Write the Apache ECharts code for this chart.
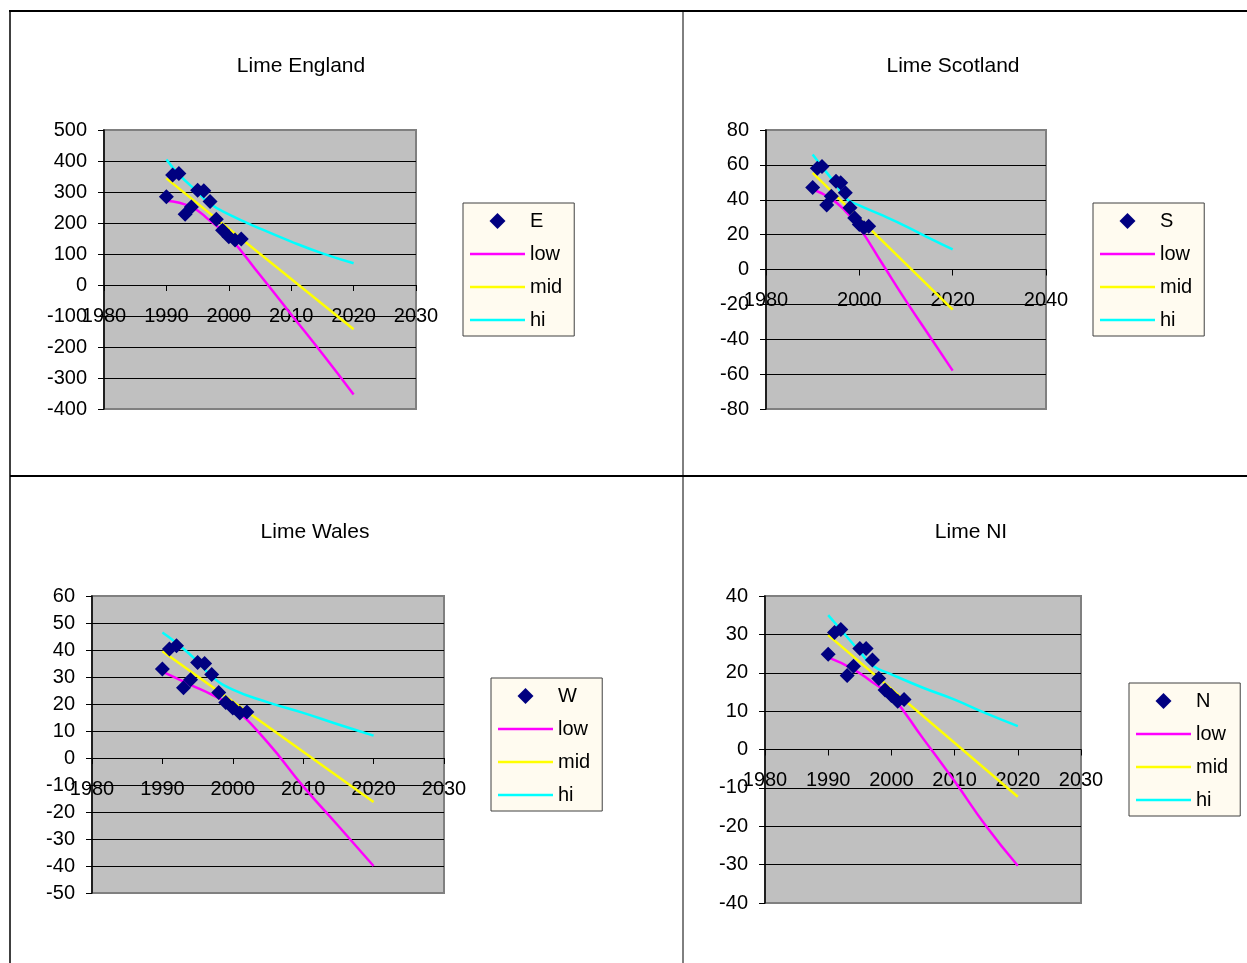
<!DOCTYPE html>
<html>
<head>
<meta charset="utf-8">
<script src="https://cdn.jsdelivr.net/npm/echarts@6/dist/echarts.min.js"></script>
<style>
html, body { margin: 0; padding: 0; background: #fff; }
#main { width: 1247px; height: 963px; }
</style>
</head>
<body>
<div id="main"></div>
<script>
// observed years and trend sample years
var obsYears = [1990, 1991, 1992, 1993, 1994, 1995, 1996, 1997, 1998, 1999, 2000, 2001, 2002];
var lowYears = [1990, 1994, 1997, 2000, 2005, 2010, 2015, 2020];
var midYears = [1990, 2020];
var hiYears = [1990, 1992, 1995, 1997, 2000, 2005, 2010, 2015, 2020];

// England
var engObs = [285, 355, 360, 228, 252, 306, 304, 269, 212, 177, 156, 145, 148];
var engLow = [272, 252, 207, 156, 32, -95, -222, -353];
var engMid = [344, -143];
var engHi = [405, 357, 300, 262, 228, 182, 140, 102, 70];

// Scotland
var scoObs = [47, 58, 59, 37, 42, 50.6, 49.7, 44, 35.4, 29.6, 25.8, 24, 24.8];
var scoLow = [46, 40.5, 33.5, 24, 3, -18, -38, -58];
var scoMid = [55.4, -23];
var scoHi = [66, 59, 48.7, 41, 36.8, 31, 24.8, 18, 11.5];

// Wales
var walObs = [33, 40.4, 41.6, 26, 29, 35.4, 35, 30.9, 24.3, 20.6, 18.5, 16.7, 17];
var walLow = [32, 27.1, 23.5, 18.9, 5.6, -10.5, -25.2, -40];
var walMid = [39.5, -16.3];
var walHi = [46.5, 42.6, 35.8, 30.2, 25.3, 20.6, 16.7, 12.4, 8.3];

// NI
var niObs = [24.8, 30.5, 31.3, 19.3, 21.7, 26.3, 26.3, 23.3, 18.5, 15.5, 14.1, 12.6, 13];
var niLow = [24, 20.9, 17.5, 13.9, 2.9, -8.3, -20, -30.3];
var niMid = [29.8, -12.3];
var niHi = [35, 31.2, 25.5, 21.9, 19.6, 16.1, 13, 9.4, 6.1];

var titles = ['Lime England', 'Lime Scotland', 'Lime Wales', 'Lime NI'];
var obsNames = ['E', 'S', 'W', 'N'];

var FONT = 'Liberation Sans, Arial, sans-serif';

function pairs(xs, ys) {
    var out = [];
    for (var i = 0; i < xs.length; i++) out.push([xs[i], ys[i]]);
    return out;
}

var charts = [
    {obs: engObs, low: engLow, mid: engMid, hi: engHi,
     grid: {left: 104, top: 130, width: 312, height: 279},
     x: [1980, 2030, 10], y: [-400, 500, 100],
     title: [301, 56], legend: [463, 203]},
    {obs: scoObs, low: scoLow, mid: scoMid, hi: scoHi,
     grid: {left: 766, top: 130, width: 280, height: 279},
     x: [1980, 2040, 20], y: [-80, 80, 20],
     title: [953, 56], legend: [1093, 203]},
    {obs: walObs, low: walLow, mid: walMid, hi: walHi,
     grid: {left: 92, top: 596, width: 352, height: 297},
     x: [1980, 2030, 10], y: [-50, 60, 10],
     title: [315, 522], legend: [491, 678]},
    {obs: niObs, low: niLow, mid: niMid, hi: niHi,
     grid: {left: 765, top: 596, width: 316, height: 307},
     x: [1980, 2030, 10], y: [-40, 40, 10],
     title: [971, 522], legend: [1129, 683]}
];

var lineIcon = 'path://M0,0H110V5H0Z';
var diamondIcon = 'path://M8,0L16,8L8,16L0,8Z';

var option = {
    backgroundColor: '#fff',
    animation: false,
    textStyle: {fontFamily: FONT},
    title: [],
    legend: [],
    grid: [],
    xAxis: [],
    yAxis: [],
    series: [],
    // page frame lines
    graphic: [
        {type: 'line', shape: {x1: 9, y1: 11, x2: 1247, y2: 11}, style: {stroke: '#000', lineWidth: 2}},
        {type: 'line', shape: {x1: 10, y1: 10, x2: 10, y2: 963}, style: {stroke: '#000', lineWidth: 1.5}},
        {type: 'line', shape: {x1: 683, y1: 11, x2: 683, y2: 963}, style: {stroke: '#000', lineWidth: 1}},
        {type: 'line', shape: {x1: 10, y1: 476, x2: 1247, y2: 476}, style: {stroke: '#000', lineWidth: 2}}
    ]
};

charts.forEach(function (c, i) {
    // x axis sits on the zero line, labels follow it
    var zeroOffset = -c.grid.height * (0 - c.y[0]) / (c.y[1] - c.y[0]);
    option.title.push({
        text: titles[i],
        left: c.title[0],
        top: c.title[1],
        textAlign: 'center',
        padding: 0,
        textStyle: {fontFamily: FONT, fontSize: 21, fontWeight: 'normal', color: '#000'}
    });
    option.legend.push({
        orient: 'vertical',
        left: c.legend[0],
        top: c.legend[1],
        padding: [8, 12, 6, 7],
        itemWidth: 55,
        itemHeight: 16,
        itemGap: 13,
        selectedMode: false,
        backgroundColor: '#fffbf0',
        borderColor: '#404040',
        borderWidth: 1,
        borderRadius: 0,
        textStyle: {fontFamily: FONT, fontSize: 20, color: '#000'},
        data: [
            {name: obsNames[i], icon: diamondIcon, itemStyle: {borderWidth: 0}},
            {name: 'low', icon: lineIcon, itemStyle: {borderWidth: 0}},
            {name: 'mid', icon: lineIcon, itemStyle: {borderWidth: 0}},
            {name: 'hi', icon: lineIcon, itemStyle: {borderWidth: 0}}
        ]
    });
    option.grid.push({
        left: c.grid.left, top: c.grid.top, width: c.grid.width, height: c.grid.height,
        show: true,
        backgroundColor: '#c0c0c0',
        borderColor: '#808080',
        borderWidth: 2
    });
    option.xAxis.push({
        type: 'value',
        gridIndex: i,
        position: 'bottom',
        offset: zeroOffset,
        min: c.x[0], max: c.x[1], interval: c.x[2],
        axisLine: {onZero: false, lineStyle: {color: '#000', width: 1}},
        axisTick: {show: true, length: 6, lineStyle: {color: '#000'}},
        splitLine: {show: false},
        axisLabel: {
            margin: 21, fontSize: 20, color: '#000', fontFamily: FONT,
            showMinLabel: true, showMaxLabel: true,
            formatter: function (v) { return String(v); }
        }
    });
    option.yAxis.push({
        type: 'value',
        gridIndex: i,
        min: c.y[0], max: c.y[1], interval: c.y[2],
        axisLine: {show: true, onZero: false, lineStyle: {color: '#000', width: 1.5}},
        axisTick: {show: true, length: 6, lineStyle: {color: '#000'}},
        splitLine: {show: true, showMinLine: false, showMaxLine: false, lineStyle: {color: '#000', width: 1}},
        axisLabel: {margin: 17, fontSize: 20, color: '#000', fontFamily: FONT}
    });
    option.series.push(
        {
            name: 'low', type: 'line', xAxisIndex: i, yAxisIndex: i,
            data: pairs(lowYears, c.low), smooth: true, symbol: 'none',
            lineStyle: {color: '#ff00ff', width: 2.5}, itemStyle: {color: '#ff00ff'}, z: 2
        },
        {
            name: 'mid', type: 'line', xAxisIndex: i, yAxisIndex: i,
            data: pairs(midYears, c.mid), symbol: 'none',
            lineStyle: {color: '#ffff00', width: 2.5}, itemStyle: {color: '#ffff00'}, z: 2
        },
        {
            name: 'hi', type: 'line', xAxisIndex: i, yAxisIndex: i,
            data: pairs(hiYears, c.hi), smooth: true, symbol: 'none',
            lineStyle: {color: '#00ffff', width: 2.5}, itemStyle: {color: '#00ffff'}, z: 2
        },
        {
            name: obsNames[i], type: 'scatter', xAxisIndex: i, yAxisIndex: i,
            data: pairs(obsYears, c.obs), symbol: 'diamond', symbolSize: 15,
            itemStyle: {color: '#000080', opacity: 1}, z: 3
        }
    );
});

var chart = echarts.init(document.getElementById('main'));
chart.setOption(option);
</script>
</body>
</html>
